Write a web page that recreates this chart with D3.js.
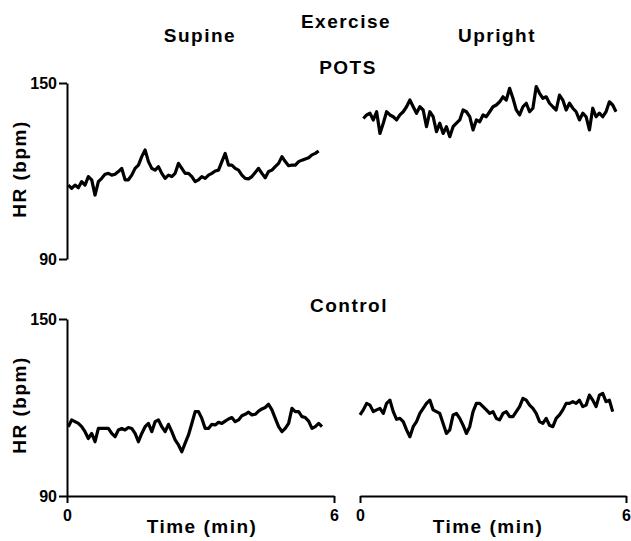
<!DOCTYPE html>
<html>
<head>
<meta charset="utf-8">
<script src="https://cdn.jsdelivr.net/npm/d3@7"></script>
<style>
  body { margin: 0; background: #fff; }
  text { font-family: "Liberation Sans", Arial, sans-serif; font-weight: bold; }
</style>
</head>
<body>
<div id="chart"></div>
<script>
// HR traces, one value every 0.075 min
const sampleStep = 0.075;

const potsSupineStart = 0.03;
const potsSupine = [115.2, 114.1, 115.2, 114.3, 116.4, 115.2, 118.1, 117.0, 111.8, 116.4,
  117.5, 118.9, 119.2, 118.6, 118.9, 119.8, 120.9, 117.0, 117.0, 118.6,
  120.9, 122.0, 124.9, 127.2, 123.2, 120.9, 120.3, 121.5, 119.2, 117.5,
  118.6, 118.1, 119.2, 122.6, 120.9, 119.2, 119.2, 118.1, 116.4, 117.0,
  118.1, 117.5, 118.6, 119.2, 120.0, 120.3, 123.2, 126.0, 122.0, 122.0,
  120.9, 120.3, 118.6, 117.5, 117.3, 118.1, 119.5, 120.9, 119.2, 117.7,
  119.8, 120.3, 121.5, 122.6, 124.9, 123.2, 121.8, 122.0, 122.0, 123.2,
  123.7, 124.1, 124.5, 125.5, 126.0, 126.8];

const potsUprightStart = 0.075;
const potsUpright = [137.9, 139.1, 139.7, 137.4, 140.2, 132.8, 136.3, 140.2, 139.1, 138.5,
  137.4, 139.1, 140.2, 141.9, 144.2, 141.9, 139.7, 141.9, 140.8, 135.1,
  140.2, 138.5, 133.4, 136.3, 132.8, 135.1, 131.7, 135.1, 136.3, 137.4,
  140.8, 140.2, 138.5, 134.0, 137.4, 136.8, 139.1, 138.5, 140.2, 141.9,
  142.5, 143.6, 145.3, 144.2, 148.2, 144.8, 140.8, 139.1, 141.9, 143.1,
  140.2, 141.4, 148.8, 146.5, 144.8, 145.3, 143.1, 141.9, 140.8, 145.9,
  144.2, 140.8, 143.1, 141.4, 140.2, 137.4, 139.7, 138.5, 134.0, 141.4,
  138.5, 139.7, 138.5, 140.2, 143.6, 142.5, 140.2];

const ctrlSupineStart = 0.03;
const ctrlSupine = [113.5, 115.8, 115.2, 114.6, 113.5, 111.8, 109.5, 111.2, 108.4, 112.9,
  112.9, 112.9, 112.9, 111.2, 110.1, 112.4, 112.9, 112.4, 113.2, 112.9,
  111.2, 108.4, 111.2, 113.5, 114.6, 111.8, 115.2, 115.8, 113.5, 111.8,
  114.3, 111.8, 109.0, 107.3, 105.0, 107.9, 110.7, 114.6, 118.6, 118.6,
  116.3, 112.9, 112.9, 114.3, 114.1, 115.0, 114.6, 115.4, 116.1, 116.6,
  115.2, 115.8, 117.2, 117.7, 118.4, 117.5, 117.7, 118.8, 119.5, 120.0,
  121.1, 119.2, 116.3, 113.5, 111.8, 112.9, 114.6, 119.7, 118.6, 118.6,
  116.9, 116.6, 115.4, 112.9, 113.5, 114.6, 113.5];

const ctrlUprightStart = 0.0;
const ctrlUpright = [117.5, 119.2, 121.4, 120.8, 118.6, 119.2, 119.7, 118.0, 121.4, 122.5,
  118.6, 116.0, 116.3, 115.2, 112.4, 110.1, 113.5, 115.2, 118.0, 119.7,
  121.4, 122.5, 119.2, 118.6, 118.0, 114.6, 111.2, 112.4, 117.5, 118.0,
  116.3, 114.0, 111.2, 113.5, 118.6, 121.4, 121.4, 120.3, 119.2, 118.0,
  118.6, 116.3, 115.8, 118.0, 118.6, 116.9, 116.9, 118.6, 120.3, 123.1,
  122.5, 120.8, 119.7, 118.0, 115.2, 114.6, 116.3, 114.0, 113.5, 116.3,
  117.5, 119.2, 121.4, 121.4, 122.0, 121.4, 122.5, 120.3, 120.8, 124.2,
  122.5, 120.3, 124.2, 124.8, 122.0, 122.5, 118.6];

const yTicks = [90, 150];
const xTicks = [0, 6];

const width = 631, height = 541;
const svg = d3.select('#chart').append('svg')
  .attr('width', width)
  .attr('height', height);

const xLeft = d3.scaleLinear().domain([0, 6]).range([67, 334]);
const xRight = d3.scaleLinear().domain([0, 6]).range([360, 626]);
const yTop = d3.scaleLinear().domain([90, 150]).range([259, 83]);
const yBot = d3.scaleLinear().domain([90, 150]).range([496, 319]);

function toPoints(values, start) {
  return values.map((v, i) => ({ t: start + i * sampleStep, hr: v }));
}

function drawTrace(values, start, x, y) {
  const line = d3.line().x(d => x(d.t)).y(d => y(d.hr));
  svg.append('path')
    .datum(toPoints(values, start))
    .attr('d', line)
    .attr('fill', 'none')
    .attr('stroke', '#000')
    .attr('stroke-width', 3.2)
    .attr('stroke-linejoin', 'round');
}

function styleAxis(g) {
  g.selectAll('.domain').attr('stroke-width', 2);
  g.selectAll('.tick line').attr('stroke-width', 2);
  g.selectAll('text')
    .attr('font-size', 16)
    .attr('font-family', '"Liberation Sans", Arial, sans-serif')
    .attr('font-weight', 'bold')
    .attr('fill', '#000');
}

function yAxis(y) {
  svg.append('g')
    .attr('transform', 'translate(67,0)')
    .call(d3.axisLeft(y).tickValues(yTicks).tickFormat(d3.format('d'))
      .tickSize(8).tickSizeOuter(0).tickPadding(2))
    .call(styleAxis);
}

function xAxis(x) {
  svg.append('g')
    .attr('transform', 'translate(0,496)')
    .call(d3.axisBottom(x).tickValues(xTicks).tickFormat(d3.format('d'))
      .tickSize(7).tickSizeOuter(0).tickPadding(7))
    .call(styleAxis);
}

yAxis(yTop);
yAxis(yBot);
xAxis(xLeft);
xAxis(xRight);

drawTrace(potsSupine, potsSupineStart, xLeft, yTop);
drawTrace(potsUpright, potsUprightStart, xRight, yTop);
drawTrace(ctrlSupine, ctrlSupineStart, xLeft, yBot);
drawTrace(ctrlUpright, ctrlUprightStart, xRight, yBot);

function label(txt, x, y) {
  return svg.append('text')
    .attr('x', x)
    .attr('y', y)
    .attr('text-anchor', 'middle')
    .attr('font-size', 19)
    .attr('letter-spacing', '1.5px')
    .text(txt);
}

label('Exercise', 346, 28);
label('Supine', 200, 42);
label('Upright', 497, 42);
label('POTS', 348, 74);
label('Control', 349, 312);
label('Time (min)', 202, 533);
label('Time (min)', 488, 533);

[169, 405].forEach(cy => {
  label('HR (bpm)', 0, 0)
    .attr('transform', `translate(26,${cy}) rotate(-90)`);
});
</script>
</body>
</html>
